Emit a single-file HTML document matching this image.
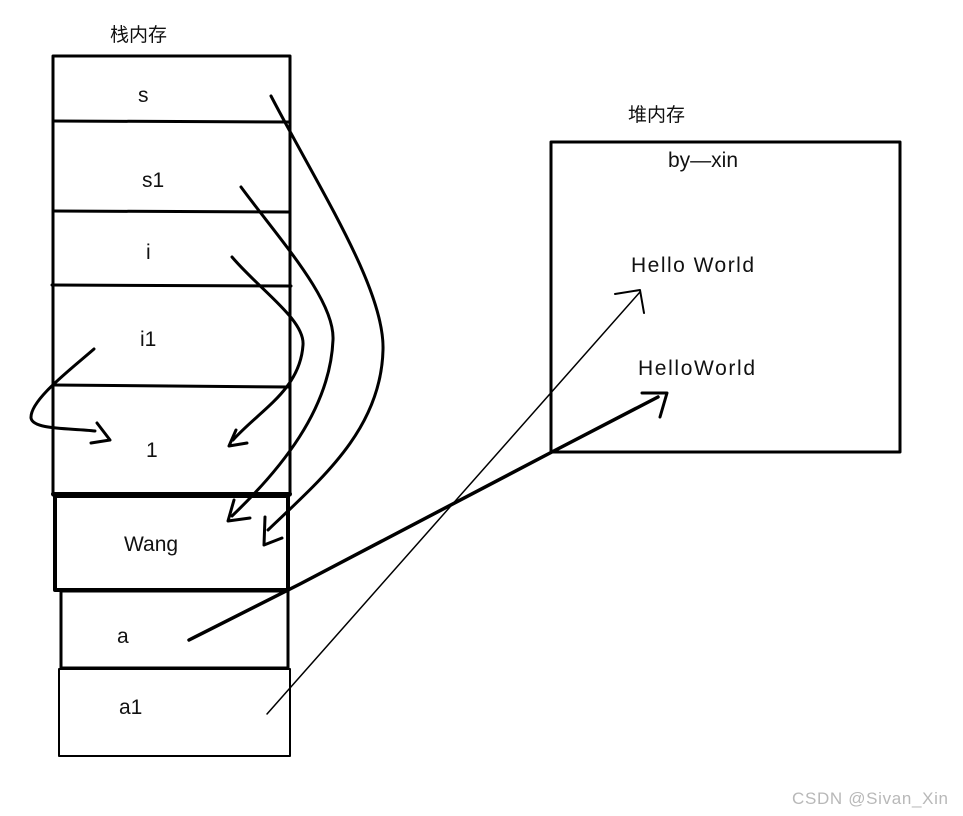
<!DOCTYPE html>
<html><head><meta charset="utf-8"><style>
html,body{margin:0;padding:0;background:#fff;width:963px;height:816px;overflow:hidden}
svg{display:block}
text{font-family:"Liberation Sans","Noto Sans CJK SC",sans-serif;fill:#111}
</style></head><body>
<svg width="963" height="816" viewBox="0 0 963 816" xmlns="http://www.w3.org/2000/svg">
<g fill="none" stroke="#000" stroke-linecap="round" stroke-linejoin="round">
<rect x="53" y="56" width="237" height="439" stroke-width="3"/>
<line x1="53" y1="121" x2="290" y2="122" stroke-width="3"/>
<line x1="53" y1="211" x2="290" y2="212" stroke-width="3"/>
<line x1="52" y1="285" x2="291" y2="286" stroke-width="3"/>
<line x1="53" y1="385" x2="290" y2="387" stroke-width="3"/>
<line x1="53" y1="494" x2="290" y2="494" stroke-width="4"/>
<rect x="55" y="496" width="233" height="94" stroke-width="4"/>
<rect x="61" y="591" width="227" height="77" stroke-width="3"/>
<rect x="59" y="669" width="231" height="87" stroke-width="2"/>
<rect x="551" y="142" width="349" height="310" stroke-width="3"/>
<path d="M271,96 C320,190 385,290 383,350 C381,430 320,480 268,530" stroke-width="3"/>
<path d="M265,517 L264,545 L282,538" stroke-width="3"/>
<path d="M241,187 C280,240 335,300 333,340 C330,410 280,470 232,516" stroke-width="3"/>
<path d="M234,500 L228,521 L250,518" stroke-width="3"/>
<path d="M232,257 C260,290 305,320 303,345 C300,390 260,410 233,440" stroke-width="3"/>
<path d="M236,430 L229,446 L247,443" stroke-width="3"/>
<path d="M94,349 C70,370 30,400 31,418 C33,430 70,428 95,431" stroke-width="3"/>
<path d="M97,423 L110,440 L91,443" stroke-width="3"/>
<path d="M189,640 L300,584 L550,453 L658,397" stroke-width="3.5"/>
<path d="M642,393 L667,393 L660,417" stroke-width="3"/>
<path d="M267,714 L640,292" stroke-width="1.5"/>
<path d="M615,294 L640,290 L644,313" stroke-width="2"/>
</g>
<text x="110" y="41" font-size="19">栈内存</text>
<text x="138" y="102" font-size="21">s</text>
<text x="142" y="187" font-size="21">s1</text>
<text x="146" y="259" font-size="21">i</text>
<text x="140" y="346" font-size="21">i1</text>
<text x="146" y="457" font-size="21">1</text>
<text x="124" y="551" font-size="21">Wang</text>
<text x="117" y="643" font-size="21">a</text>
<text x="119" y="714" font-size="21">a1</text>
<text x="628" y="121" font-size="19">堆内存</text>
<text x="668" y="167" font-size="21">by—xin</text>
<text x="631" y="272" font-size="21" textLength="123">Hello World</text>
<text x="638" y="375" font-size="21" textLength="117">HelloWorld</text>
<text x="792" y="804" font-size="17" textLength="156" style="fill:#b8b8b8">CSDN @Sivan_Xin</text>
</svg>
</body></html>
